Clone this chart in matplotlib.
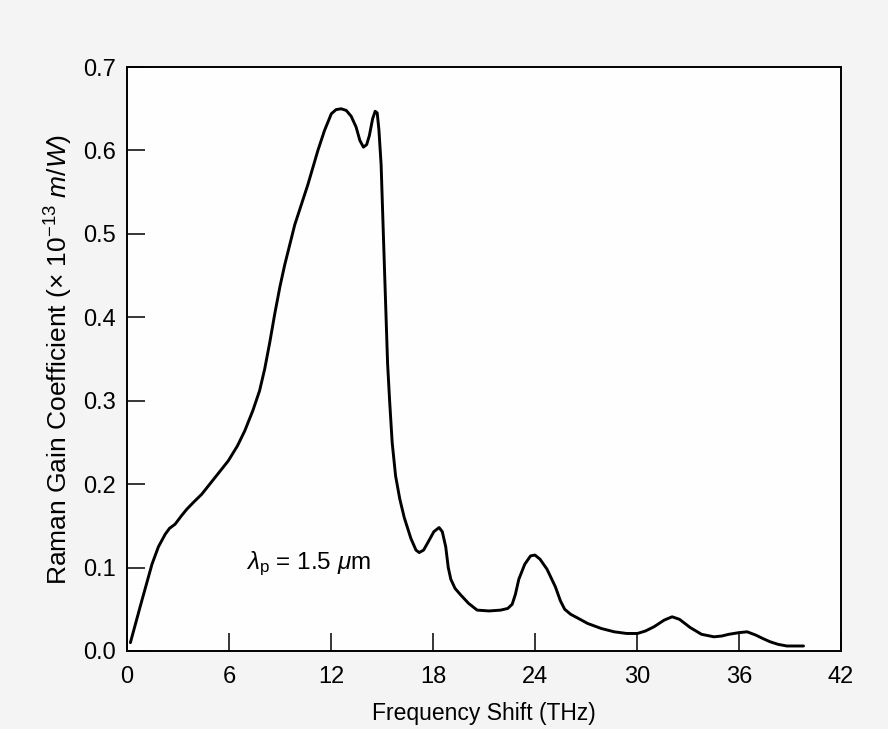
import matplotlib
matplotlib.use("Agg")
import matplotlib.pyplot as plt

# Raman gain spectrum of fused silica (pump at 1.5 um)
freq_thz = [0.2, 0.8, 1.47, 1.85, 2.25, 2.5, 2.83, 3.2, 3.52, 3.9, 4.40, 5.18, 5.96,
            6.5, 6.93, 7.4, 7.8, 8.1, 8.4, 8.7, 9.0, 9.28, 9.87, 10.64, 11.23, 11.62,
            12.02, 12.3, 12.60, 12.9, 13.19, 13.48, 13.7, 13.91, 14.1, 14.26, 14.45,
            14.6, 14.72, 14.82, 14.95, 15.05, 15.14, 15.33, 15.45, 15.6, 15.8, 16.05,
            16.31, 16.7, 17.0, 17.19, 17.45, 17.7, 18.05, 18.36, 18.55, 18.75, 18.9,
            19.05, 19.3, 19.64, 20.1, 20.6, 21.3, 21.98, 22.4, 22.66, 22.85, 23.05,
            23.4, 23.74, 24.0, 24.3, 24.71, 25.2, 25.5, 25.75, 26.1, 26.47, 27.1,
            27.9, 28.66, 29.4, 30.03, 30.5, 31.0, 31.6, 32.07, 32.5, 33.14, 33.8,
            34.53, 35.0, 35.4, 36.0, 36.48, 37.0, 37.4, 37.84, 38.3, 38.82, 39.8]
gain = [0.010, 0.055, 0.104, 0.125, 0.140, 0.147, 0.152, 0.162, 0.170, 0.178, 0.188,
        0.208, 0.228, 0.246, 0.264, 0.288, 0.312, 0.338, 0.370, 0.405, 0.437, 0.463,
        0.511, 0.559, 0.600, 0.624, 0.644, 0.649, 0.650, 0.648, 0.641, 0.628, 0.612,
        0.604, 0.607, 0.618, 0.638, 0.647, 0.645, 0.625, 0.583, 0.520, 0.463, 0.345,
        0.300, 0.250, 0.210, 0.182, 0.160, 0.135, 0.121, 0.118, 0.121, 0.130, 0.143,
        0.148, 0.143, 0.125, 0.100, 0.086, 0.075, 0.067, 0.057, 0.049, 0.048, 0.049,
        0.051, 0.056, 0.068, 0.086, 0.104, 0.114, 0.115, 0.110, 0.098, 0.077, 0.060,
        0.050, 0.044, 0.040, 0.033, 0.027, 0.023, 0.021, 0.021, 0.024, 0.029, 0.037,
        0.041, 0.038, 0.028, 0.020, 0.017, 0.018, 0.020, 0.022, 0.023, 0.019, 0.015,
        0.011, 0.008, 0.006, 0.006]

x_ticks = [0, 6, 12, 18, 24, 30, 36, 42]
y_ticks = [0.0, 0.1, 0.2, 0.3, 0.4, 0.5, 0.6, 0.7]
y_tick_labels = ["0.0", "0.1", "0.2", "0.3", "0.4", "0.5", "0.6", "0.7"]

plt.rcParams["font.family"] = ["Liberation Sans", "DejaVu Sans"]
plt.rcParams["mathtext.fontset"] = "custom"
plt.rcParams["mathtext.rm"] = "Liberation Sans"
plt.rcParams["mathtext.it"] = "Liberation Sans:italic"
plt.rcParams["mathtext.sf"] = "Liberation Sans"

fig = plt.figure(figsize=(8.88, 7.29), dpi=100, facecolor="#f4f4f4")
ax = fig.add_axes([0.143, 0.107, 0.804, 0.801])
ax.set_facecolor("#fefefe")

ax.plot(freq_thz, gain, color="black", lw=2.1, solid_capstyle="round",
        solid_joinstyle="round")

ax.set_xlim(0, 42)
ax.set_ylim(0, 0.7)
ax.set_xticks(x_ticks)
ax.set_yticks(y_ticks)
ax.set_yticklabels(y_tick_labels)
ax.tick_params(direction="in", length=13, width=1.1, labelsize=17,
               top=False, right=False, colors="black")
ax.tick_params(axis="x", pad=11)
ax.tick_params(axis="y", pad=8)
for sp in ax.spines.values():
    sp.set_linewidth(1.4)

ax.set_xlabel("Frequency Shift (THz)", fontsize=16.5, labelpad=10)
ax.set_ylabel(r"Raman Gain Coefficient (× 10$^{-13}$ $\it{m/W}$)",
              fontsize=19, labelpad=6)

ax.text(10.7, 0.104, r"$\lambda_{\rm p}$ = 1.5 $\mu$m", fontsize=17.5,
        ha="center", va="center")

fig.savefig("out.png", dpi=100, facecolor=fig.get_facecolor())
